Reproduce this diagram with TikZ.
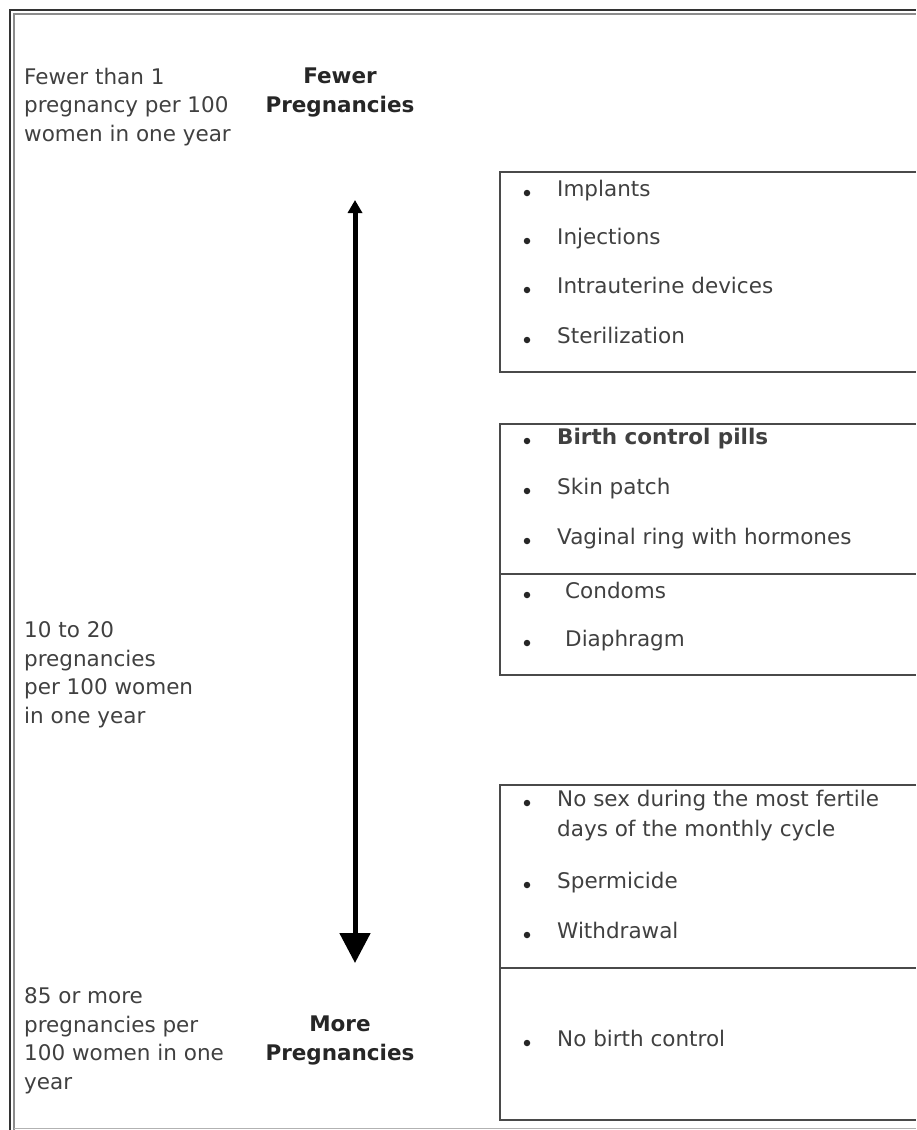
\documentclass[tikz,border=0pt]{standalone}
\usepackage{fontspec}
\setmainfont{DejaVu Sans}
\usepackage{tikz}
\usetikzlibrary{arrows.meta}
\definecolor{txtgray}{HTML}{404040}
\definecolor{linegray}{HTML}{4A4A4A}

\begin{document}
\begin{tikzpicture}[x=1pt,y=-1pt]
    \def\bx{500}
    \def\rx{916}

    % --- DEFINE STYLES ---
    % Style for the rate texts on the left (placed by their last line)
    \tikzstyle{ratetxt} = [anchor=base west, align=left, inner sep=0pt, text=txtgray, font=\fontsize{21.5}{28.5}\selectfont]
    % Style for the bold headings at the arrow ends
    \tikzstyle{headtxt} = [ratetxt, anchor=base, align=center, text=black!85, font=\fontsize{21.5}{28.5}\selectfont\bfseries]
    % Style for list entries
    \tikzstyle{item} = [anchor=mid west, inner sep=0pt, text=txtgray, font=\fontsize{21.5}{30}\selectfont]
    % Style for bullets
    \tikzstyle{dot} = [circle, fill=black!85, inner sep=0pt, minimum size=6.5pt]
    % Style for box lines
    \tikzstyle{boxline} = [draw=linegray, line width=1.3pt]

    \useasboundingbox (0,0) rectangle (916,1130);

    % outer frame (double on top and left)
    \draw[black!80, line width=2pt] (10,1130) -- (10,10) -- (916,10);
    \draw[black!45, line width=1.2pt] (14,1130) -- (14,14) -- (916,14);
    \draw[black!30, line width=1pt] (14,1128) -- (916,1128);

    % --- LEFT COLUMN ---
    \node[ratetxt] (few) at (24,141) {Fewer than 1\\pregnancy per 100\\women in one year};
    \node[ratetxt] (mid) at (24,723) {10 to 20\\pregnancies\\per 100 women\\in one year};
    \node[ratetxt] (more) at (24,1089) {85 or more\\pregnancies per\\100 women in one\\year};

    \node[headtxt] (fewhead) at (340,112) {Fewer\\Pregnancies};
    \node[headtxt] (morehead) at (340,1060) {More\\Pregnancies};

    % Arrow
    \coordinate (atop) at (355,200);
    \coordinate (abot) at (355,963);
    \draw[line width=5pt, {Triangle[width=14pt,length=13pt]}-{Triangle[width=30pt,length=30pt]}] (atop) -- (abot);

    % --- METHOD BOXES ---
    \draw[boxline] (\rx,172) -- (\bx,172) -- (\bx,372) -- (\rx,372);
    \draw[boxline] (\rx,424) -- (\bx,424) -- (\bx,675) -- (\rx,675);
    \draw[boxline] (\bx,574) -- (\rx,574);
    \draw[boxline] (\rx,785) -- (\bx,785) -- (\bx,1120) -- (\rx,1120);
    \draw[boxline] (\bx,968) -- (\rx,968);

    \foreach \y/\txt [count=\i] in {190/Implants, 238/Injections, 287/Intrauterine devices, 337/Sterilization} {
        \node[dot] (da\i) at (527,\y+3) {};
        \node[item] (ia\i) at (557,\y+4) {\txt};
    }

    \foreach \y/\txt [count=\i] in {438/\textbf{Birth control pills}, 488/Skin patch, 538/Vaginal ring with hormones} {
        \node[dot] (db\i) at (527,\y+3) {};
        \node[item] (ib\i) at (557,\y+4) {\txt};
    }
    \foreach \y/\txt [count=\i] in {592/Condoms, 640/Diaphragm} {
        \node[dot] (dc\i) at (527,\y+3) {};
        \node[item] (ic\i) at (565,\y+4) {\txt};
    }

    \node[dot] (dd1) at (527,803) {};
    \node[item] (id1) at (557,804) {No sex during the most fertile};
    \node[item] (id1b) at (557,834) {days of the monthly cycle};
    \foreach \y/\txt [count=\i from 2] in {882/Spermicide, 932/Withdrawal} {
        \node[dot] (dd\i) at (527,\y+3) {};
        \node[item] (id\i) at (557,\y+4) {\txt};
    }

    \node[dot] (de1) at (527,1043) {};
    \node[item] (ie1) at (557,1044) {No birth control};
\end{tikzpicture}
\end{document}
